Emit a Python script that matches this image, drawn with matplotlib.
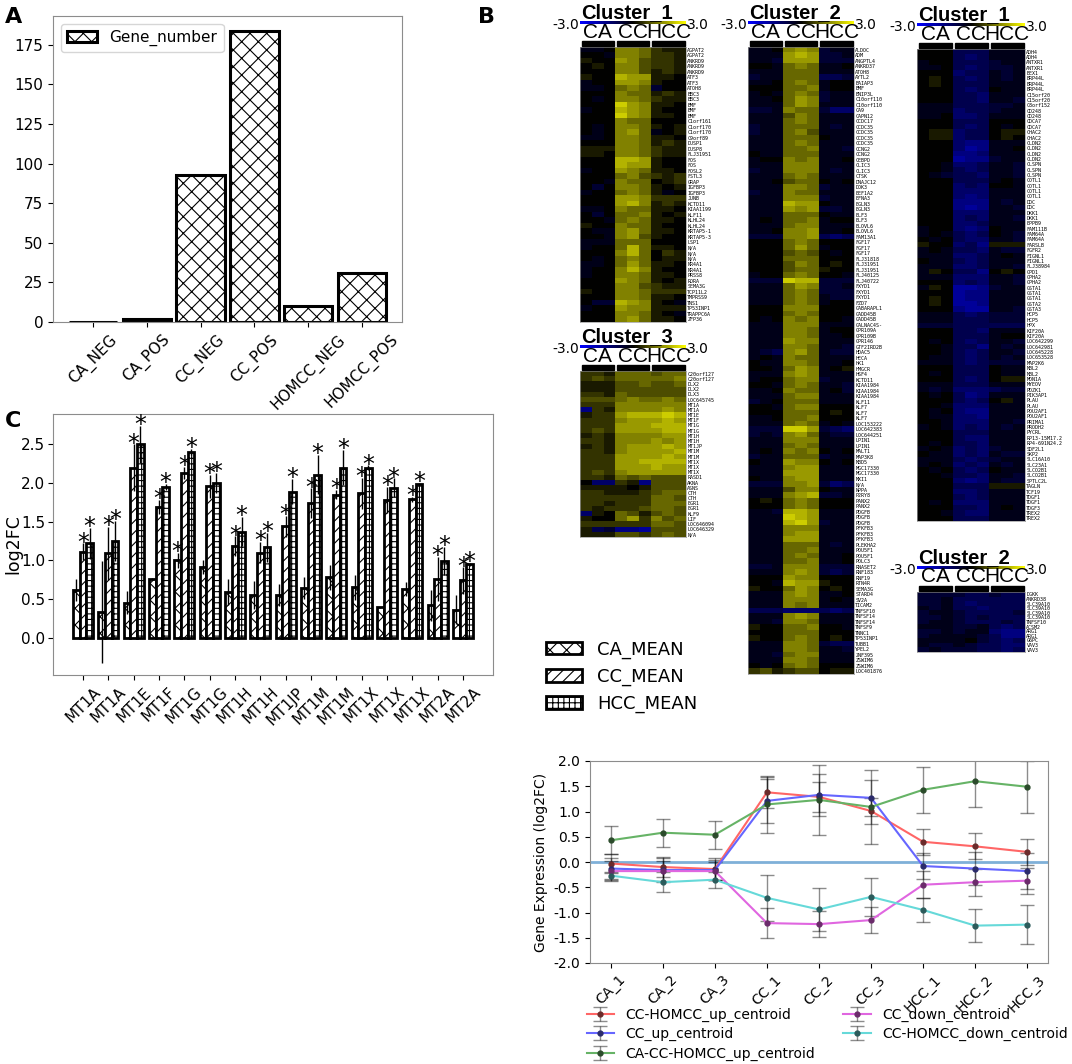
import numpy as np
import matplotlib
matplotlib.use('Agg')
import matplotlib.pyplot as plt
from matplotlib.colors import LinearSegmentedColormap, Normalize
from matplotlib.cm import ScalarMappable
from matplotlib.patches import Patch, Rectangle

W, H = 1072, 1064
plt.rcParams['hatch.linewidth'] = 0.8

# ---------------- panel A data
a_categories = ['CA_NEG', 'CA_POS', 'CC_NEG', 'CC_POS', 'HOMCC_NEG', 'HOMCC_POS']
a_gene_number = [0, 2, 93, 184, 10, 31]

# ---------------- panel C data
c_genes = ['MT1A', 'MT1A', 'MT1E', 'MT1F', 'MT1G', 'MT1G', 'MT1H', 'MT1H',
           'MT1JP', 'MT1M', 'MT1M', 'MT1X', 'MT1X', 'MT1X', 'MT2A', 'MT2A']
c_ca_mean = [0.62, 0.33, 0.45, 0.76, 1.00, 0.91, 0.59, 0.55, 0.55, 0.64, 0.78, 0.65, 0.39, 0.63, 0.42, 0.36]
c_cc_mean = [1.11, 1.09, 2.20, 1.69, 2.13, 1.96, 1.18, 1.10, 1.44, 1.74, 1.85, 1.87, 1.78, 1.79, 0.76, 0.74]
c_hcc_mean = [1.22, 1.25, 2.50, 1.95, 2.40, 2.00, 1.37, 1.17, 1.89, 2.11, 2.20, 2.20, 1.94, 1.99, 0.99, 0.95]
c_ca_err = [0.14, 0.66, 0.15, 0.01, 0.10, 0.09, 0.17, 0.18, 0.14, 0.14, 0.16, 0.16, 0.01, 0.09, 0.20, 0.19]
c_cc_err = [0.11, 0.34, 0.30, 0.09, 0.08, 0.15, 0.13, 0.14, 0.14, 0.19, 0.06, 0.20, 0.17, 0.03, 0.28, 0.17]
c_hcc_err = [0.20, 0.26, 0.24, 0.04, 0.04, 0.13, 0.19, 0.19, 0.16, 0.25, 0.23, 0.03, 0.12, 0.01, 0.18, 0.02]
# significance flags per group: CA, CC, HCC
c_stars = ['011', '011', '011', '011', '111', '011', '011', '011',
           '011', '011', '011', '011', '011', '011', '011', '011']

# ---------------- panel D data
d_samples = ['CA_1', 'CA_2', 'CA_3', 'CC_1', 'CC_2', 'CC_3', 'HCC_1', 'HCC_2', 'HCC_3']
d_cc_homcc_up = [-0.03, -0.10, -0.14, 1.38, 1.29, 1.01, 0.40, 0.31, 0.20]
d_cc_homcc_up_err = [0.18, 0.19, 0.22, 0.31, 0.30, 0.25, 0.26, 0.26, 0.25]
d_cc_up = [-0.13, -0.16, -0.16, 1.21, 1.33, 1.27, -0.08, -0.13, -0.18]
d_cc_up_err = [0.20, 0.23, 0.20, 0.44, 0.41, 0.36, 0.26, 0.33, 0.36]
d_ca_cc_homcc_up = [0.43, 0.58, 0.54, 1.14, 1.23, 1.09, 1.43, 1.60, 1.49]
d_ca_cc_homcc_up_err = [0.28, 0.28, 0.28, 0.56, 0.69, 0.74, 0.46, 0.52, 0.51]
d_cc_down = [-0.18, -0.18, -0.18, -1.21, -1.23, -1.15, -0.45, -0.40, -0.37]
d_cc_down_err = [0.19, 0.20, 0.18, 0.29, 0.26, 0.25, 0.27, 0.27, 0.26]
d_cc_homcc_down = [-0.27, -0.40, -0.35, -0.71, -0.94, -0.69, -0.95, -1.26, -1.24]
d_cc_homcc_down_err = [0.08, 0.20, 0.16, 0.45, 0.42, 0.38, 0.23, 0.33, 0.39]
d_yticks = [-2.0, -1.5, -1.0, -0.5, 0.0, 0.5, 1.0, 1.5, 2.0]

# ---------------- panel B heatmaps
# one string per gene: CA x3, CC x3, HCC x3
# '0'..'9' -> 0.0..2.7 (step 0.3), 'a'..'i' -> -0.3..-2.7
hm_groups = ['CA', 'CC', 'HCC']

c1_genes = ['AGPAT2', 'AGPAT2', 'ANKRD9', 'ANKRD9', 'ANKRD9', 'ATF3', 'ATF3', 'ATOH8', 'BBC3', 'BBC3',
            'BMF', 'BMF', 'BMF', 'C1orf161', 'C1orf170', 'C1orf170', 'C9orf89', 'DUSP1', 'DUSP8', 'FLJ31951',
            'FOS', 'FOS', 'FOSL2', 'FSTL3', 'GRAP', 'IGFBP3', 'IGFBP3', 'JUNB', 'KCTD11', 'KIAA1199',
            'KLF11', 'KLHL24', 'KLHL24', 'KRTAP5-1', 'KRTAP5-3', 'LSP1', 'N/A', 'N/A', 'N/A', 'NR4A1',
            'NR4A1', 'PRSS8', 'RORA', 'SEMA3G', 'TCP11L2', 'TMPRSS9', 'TNS1', 'TP53INP1', 'TRAPPC6A', 'ZFP36']
c1_rows = ['aa0 554 211', '00a 554 221', '100 653 221', '010 553 221', '000 553 121',
           '100 766 110', 'a00 665 100', 'aa0 454 b00', '000 544 121', '0a0 554 211',
           '000 865 110', 'a00 765 100', '000 865 110', '000 544 000', '0a0 554 101',
           '0a0 564 a01', 'aa0 554 110', '000 554 121', '111 554 211', '110 554 211',
           '000 776 100', '000 766 100', 'a00 654 110', '000 453 212', '00a 544 012',
           '0b0 554 101', 'a00 454 1a0', '000 665 222', '000 675 121', 'aa0 544 110',
           '0b0 445 101', '00a 454 110', '100 544 100', '0aa 564 110', '00a 563 100',
           'aaa 444 000', 'a00 474 110', '000 574 021', '0a0 454 011', 'aa0 464 110',
           'a00 575 100', 'a00 554 110', '000 654 101', '000 553 211', '100 554 222',
           '000 554 110', '0bb 765 10a', 'a00 655 111', '000 554 10a', '000 564 110']

c3_genes = ['C20orf127', 'C20orf127', 'DLX2', 'DLX2', 'DLX3', 'LOC645745', 'MT1A', 'MT1A', 'MT1E', 'MT1F',
            'MT1G', 'MT1G', 'MT1H', 'MT1H', 'MT1JP', 'MT1M', 'MT1M', 'MT1X', 'MT1X', 'MT1X',
            'RASD1', 'AKNA', 'ASNS', 'CTH', 'CTH', 'EGR1', 'EGR1', 'KLF9', 'LIF', 'LOC646094',
            'LOC646329', 'N/A']
c3_rows = ['221 444 344', '232 444 445', '111 334 334', '111 333 333', '221 433 333',
           '333 454 454', '222 555 555', 'e21 555 565', '122 677 787', '222 566 676',
           '222 666 777', '232 666 677', '121 555 566', '221 555 656', '121 566 676',
           '221 566 667', '222 666 676', '222 667 777', '222 666 766', '232 566 666',
           '221 434 333', '0dd 21e 333', '111 101 333', '221 112 344', '222 222 443',
           '221 222 444', '212 223 443', 'd10 431 343', '100 462 534', '222 222 443',
           '1cb eef 333', '111 332 343']

c2_genes = ['ALDOC', 'ADM', 'ANGPTL4', 'ANKRD37', 'ATOH8', 'AYTL2', 'BAIAP3', 'BMF', 'BNIP3L', 'C10orf110',
            'C10orf110', 'CA9', 'CAPN12', 'CCDC17', 'CCDC35', 'CCDC35', 'CCDC35', 'CCDC35', 'CCNG2', 'CCNG2',
            'CEBPD', 'CLIC3', 'CLIC3', 'CTSK', 'DNAJC12', 'DOK3', 'EEF1A2', 'EFNA3', 'EGLN3', 'EGLN3',
            'ELF3', 'ELF3', 'ELOVL6', 'ELOVL6', 'FAM13A1', 'FGF17', 'FGF17', 'FGF17', 'FLJ31818', 'FLJ31951',
            'FLJ31951', 'FLJ40125', 'FLJ40722', 'FXYD1', 'FXYD1', 'FXYD1', 'FZD7', 'GABARAPL1', 'GADD45B', 'GADD45B',
            'GALNAC4S-', 'GPR109A', 'GPR109B', 'GPR146', 'GTF2IRD2B', 'HDAC5', 'HECA', 'HK1', 'HMGCR', 'HSF4',
            'KCTD11', 'KIAA1984', 'KIAA1984', 'KIAA1984', 'KLF11', 'KLF7', 'KLF7', 'KLF7', 'LOC153222', 'LOC642383',
            'LOC644251', 'LPIN1', 'LPIN1', 'MALT1', 'MAP3K8', 'MBD5', 'MGC17330', 'MGC17330', 'MXI1', 'N/A',
            'NPPA', 'P2RY8', 'PANX2', 'PANX2', 'PDGFB', 'PDGFB', 'PDGFB', 'PFKFB3', 'PFKFB3', 'PFKFB3',
            'PLEKHA2', 'POU5F1', 'POU5F1', 'POLC3', 'RNASET2', 'RNF183', 'RNF19', 'RTN4R', 'SEMA3G', 'STARD4',
            'SV2A', 'TICAM2', 'TNFSF10', 'TNFSF14', 'TNFSF14', 'TNFSF9', 'TNNC1', 'TP53INP1', 'TUBB1', 'YPEL2',
            'ZNF395', 'ZSWIM6', 'ZSWIM6', 'LOC401876']
c2_rows = ['aa0 565 baa', 'aaa 676 bba', 'aab 666 bbb', '00a 454 aa0', 'aaa 444 aaa',
           'baa 444 ccb', 'aa0 454 a00', '000 445 a00', 'a0a 454 baa', 'aa0 465 baa',
           'aaa 465 aaa', 'bba 544 bdd', 'aaa 354 aaa', 'aaa 454 aaa', 'baa 444 aba',
           'baa 453 aaa', 'aaa 444 0aa', 'aaa 454 aaa', 'aaa 445 aab', '0aa 444 aaa',
           'a00 545 aa0', 'aaa 555 aaa', 'baa 555 aba', 'aaa 454 aaa', 'aa0 344 0a0',
           'aaa 554 baa', 'baa 544 aaa', 'aaa 555 baa', 'aaa 766 0aa', 'aaa 656 bba',
           'aaa 444 0aa', 'a0a 445 a00', 'aaa 455 aaa', 'aa0 556 aa0', 'bbb 556 cdc',
           '000 454 000', '000 464 a00', '000 343 0a0', '000 444 000', '000 354 010',
           '000 344 100', 'a00 454 00a', 'bbb 877 bbb', 'aaa 465 bba', 'aaa 454 bbb',
           'aaa 454 abb', 'aaa 454 a00', '000 555 000', '000 454 000', '0a0 545 00a',
           'aaa 555 aaa', 'aaa 554 a00', 'aaa 554 aa0', 'aaa 655 aaa', 'aaa 554 aab',
           'abc 564 abb', 'a0a 544 aaa', '0aa 554 aa0', '00a 465 a01', 'aaa 565 aaa',
           'a00 455 baa', '00a 454 aab', 'aa0 544 a0b', 'aaa 455 aaa', 'ba0 444 aaa',
           '00a 455 000', '000 444 010', 'aa0 445 000', 'aaa 454 a0a', 'bbb 886 bcd',
           'bab 564 abb', 'aaa 555 aaa', 'aaa 454 aaa', 'a0a 545 0a0', 'baa 444 baa',
           '0aa 655 0a0', 'aaa 566 aaa', 'aaa 666 aaa', '0aa 566 aaa', 'bbb 556 bdc',
           'aaa 355 0aa', 'aaa 567 bba', '010 454 000', '000 454 000', 'aab 776 aaa',
           'aaa 876 aaa', 'aaa 786 baa', 'aaa 555 aaa', 'aaa 566 aaa', 'aaa 666 aaa',
           'aaa 444 aba', 'aaa 445 aaa', 'aaa 454 aa0', 'aaa 445 aa0', 'bba 555 bbb',
           'aaa 565 bcb', '000 655 000', '00a 766 100', '100 465 010', 'aaa 565 aa0',
           'aaa 555 a0a', 'aaa 545 aaa', 'ccc ddd cdc', 'aaa 565 aaa', 'aab 554 aaa',
           '100 445 00a', '000 444 000', '100 454 010', 'aaa 554 bcc', 'aaa 554 aab',
           'aab 455 aaa', 'aaa 554 aaa', '0a0 454 000', '231 233 011']

r1_genes = ['ADH4', 'ADH4', 'ANTXR1', 'ANTXR1', 'BEX1', 'BRP44L', 'BRP44L', 'BRP44L', 'C15orf20', 'C15orf20',
            'C8orf152', 'CD248', 'CD248', 'CDCA7', 'CDCA7', 'CHAC2', 'CHAC2', 'CLDN2', 'CLDN2', 'CLDN2',
            'CLDN2', 'CLSPN', 'CLSPN', 'CLSPN', 'COTL1', 'COTL1', 'COTL1', 'COTL1', 'DDC', 'DDC',
            'DKK1', 'DKK1', 'EPPB9', 'FAM111B', 'FAM64A', 'FAM64A', 'FARSLB', 'FGFR2', 'FIGNL1', 'FIGNL1',
            'FLJ38984', 'GPD1', 'GPHA2', 'GPHA2', 'GSTA1', 'GSTA1', 'GSTA1', 'GSTA2', 'GSTA3', 'HCP5',
            'HCP5', 'HPX', 'KIF20A', 'KIF20A', 'LOC642299', 'LOC642981', 'LOC645228', 'LOC653528', 'MAP2K6', 'MBL2',
            'MBL2', 'MON1A', 'MYEOV', 'PDZK1', 'PIK3AP1', 'PLAU', 'PLAU', 'POU2AF1', 'POU2AF1', 'PRIMA1',
            'PRODH2', 'PYCRL', 'RP13-15M17.2', 'RP4-691N24.2', 'SDF2L1', 'SKP2', 'SLC16A10', 'SLC23A1', 'SLCO2B1', 'SLCO2B1',
            'SPTLC2L', 'TAGLN', 'TCF19', 'TDGF1', 'TDGF1', 'TDGF3', 'TREX2', 'TREX2']
r1_rows = ['000 ccc aaa', '000 cdc aaa', 'a00 ccc baa', 'aa0 cdc bba', '000 dcc aba',
           '010 cdc aba', '010 ccc aaa', '000 cdc 0aa', '000 ccd aaa', '000 ccd aab',
           'aaa ccc bba', 'aaa dcc baa', 'aa0 ddc aaa', '000 ccc 000', '000 cdc 0a0',
           '011 dcc 011', '011 dcc 010', '000 dee aaa', '000 dfe aa0', '000 eed aaa',
           '000 fee baa', '00a ddc aab', '00a cdc aab', '0ab ccd aab', '000 ccc a0a',
           '000 dcd 00a', '000 ddd aaa', '000 ded aaa', '000 eee aba', '000 efe aab',
           '000 ddd aaa', '000 dcd aab', '000 ddc aaa', 'a00 ded 0aa', 'a0a cdc 0ab',
           '0a0 cdd aab', '100 dce 111', 'a0a ccd abb', 'aaa ddc a0a', '0aa cdc aaa',
           'aaa ddc aab', 'a10 cce 010', 'aaa ddd aab', '000 dcd aab', 'a10 ffe baa',
           '000 fee aaa', '010 fee aaa', '010 ffe aaa', '000 eff aab', 'aaa cdc bbb',
           'aaa ccc bbb', 'bbb ccc ccc', '000 ccd aaa', '000 ccc a00', '0a0 cdc aab',
           '00a cce aba', '00a cdc aab', '0aa cdc aba', 'aaa cdc bbb', '000 ccc 0aa',
           '0a0 ccc 0aa', '000 cdc 011', 'aaa ccc aaa', 'aba ddd cbb', '0a0 ced aaa',
           '000 cdc 01a', '00a ddd aaa', '0a0 dee aaa', '0aa dde aaa', '00a ddd aab',
           'a0a dcd aba', '000 ccc aaa', '000 cdd aaa', '0a0 ccd aaa', 'a0a dcd baa',
           '0aa dcd abb', 'aaa cdc baa', 'a0a dcd aba', '0a0 cdc 0aa', '00a ccd aab',
           '000 ded abb', '000 ccc 111', '000 ddc aaa', '000 cdc aaa', '0a0 ddd aaa',
           '000 ccd a0a', '00a cdd aaa', '000 ccc aaa']

r2_genes = ['DGKK', 'ANKRD38', 'SLC39A10', 'SLC39A10', 'SLC39A10', 'SLC39A10', 'TNFSF10', 'ACSM2',
            'ARG1', 'ARG1', 'G6PC', 'VAV3', 'VAV3']
r2_rows = ['bbb bcc bcc', 'bba ccc ccc', 'bba cdc ccc', 'aba ccd ccc', 'baa bcc ccb',
           'bba bcb ccc', 'baa bcc cbc', 'aaa bba cdc', 'bba baa dee', 'baa aab cee',
           'aaa a0b cdc', 'abb abc cdd', 'bab bbc cdc']

LEVELS = {str(d): 0.3 * d for d in range(10)}
LEVELS.update({ch: -0.3 * (i + 1) for i, ch in enumerate('abcdefghi')})


def decode(rows):
    return np.array([[LEVELS[ch] for ch in r.replace(' ', '')] for r in rows])


hm_cmap = LinearSegmentedColormap.from_list('blue_black_yellow', ['#0000ff', '#000000', '#ffff00'])

fig = plt.figure(figsize=(W / 100, H / 100), dpi=100)


def fx(x):
    return x / W


def fy(y):
    return 1 - y / H


def add_ax(x0, y0, x1, y1):
    return fig.add_axes([fx(x0), fy(y1), (x1 - x0) / W, (y1 - y0) / H])


def gray_frame(ax):
    for s in ax.spines.values():
        s.set_color('0.55')


# ================= A
axa = add_ax(53, 16, 402, 322)
axa.bar(a_categories, a_gene_number, width=0.9, color='white', edgecolor='k',
        linewidth=2.2, hatch='xx', label='Gene_number')
axa.legend(loc='upper left', fontsize=11)
axa.tick_params(labelsize=11)
plt.setp(axa.get_xticklabels(), rotation=45)
gray_frame(axa)
fig.text(fx(14), fy(17), 'A', fontsize=16, fontweight='bold', ha='center', va='center')

# ================= C
axc = add_ax(53, 414, 493, 675)
xc = np.arange(len(c_genes))
bw = 0.263
c_series = [(c_ca_mean, c_ca_err, 'xx', 'CA_MEAN'),
            (c_cc_mean, c_cc_err, '///', 'CC_MEAN'),
            (c_hcc_mean, c_hcc_err, '+++', 'HCC_MEAN')]
for k, (vals, errs, hatch, lab) in enumerate(c_series):
    pos = xc + (k - 1) * bw
    axc.bar(pos, vals, width=bw, color='white', edgecolor='k', linewidth=2, hatch=hatch,
            yerr=errs, error_kw=dict(elinewidth=1, ecolor='k'), label=lab)
    for i in range(len(c_genes)):
        if c_stars[i][k] == '1':
            axc.text(pos[i], vals[i] + errs[i] + 0.01, '*', ha='center', va='center', fontsize=17)
axc.set_xticks(xc)
axc.set_xticklabels(c_genes, rotation=45, fontsize=11)
axc.tick_params(axis='y', labelsize=11, pad=2)
axc.set_ylabel('log2FC', fontsize=12.5)
axc.yaxis.set_label_coords(-0.07, 0.5)
axc.set_yticks([0, 0.5, 1.0, 1.5, 2.0, 2.5])
gray_frame(axc)
c_handles = [Patch(facecolor='white', edgecolor='k', linewidth=2, hatch=h, label=l)
             for _, _, h, l in c_series]
fig.legend(handles=c_handles, loc='upper left', bbox_to_anchor=(fx(530), fy(624)),
           frameon=False, fontsize=13)
fig.text(fx(13), fy(421), 'C', fontsize=16, fontweight='bold', ha='center', va='center')

# ================= D
axd = add_ax(590, 761, 1048, 963)
xd = np.arange(len(d_samples))
d_series = [(d_cc_homcc_up, d_cc_homcc_up_err, '#ff6666', '#6b2b2b', 'CC-HOMCC_up_centroid'),
            (d_cc_up, d_cc_up_err, '#6666ff', '#2b2b6b', 'CC_up_centroid'),
            (d_ca_cc_homcc_up, d_ca_cc_homcc_up_err, '#66b366', '#2b4b2b', 'CA-CC-HOMCC_up_centroid'),
            (d_cc_down, d_cc_down_err, '#e066e0', '#6b2b6b', 'CC_down_centroid'),
            (d_cc_homcc_down, d_cc_homcc_down_err, '#66d9d9', '#2b5b5b', 'CC-HOMCC_down_centroid')]
for vals, errs, col, mcol, lab in d_series:
    axd.errorbar(xd, vals, yerr=errs, fmt='-o', color=col, lw=1.5, ms=3.5, mfc=mcol, mec=mcol,
                 ecolor=(0, 0, 0, 0.45), elinewidth=1, capsize=5, label=lab)
axd.axhline(0, color='#7fb0d8', lw=2, zorder=0)
axd.set_ylim(-2, 2)
axd.set_yticks(d_yticks)
axd.set_yticklabels([f'{v:.1f}' for v in d_yticks])
axd.set_xticks(xd)
axd.set_xticklabels(d_samples, rotation=45, fontsize=10)
axd.tick_params(axis='y', labelsize=10)
axd.set_ylabel('Gene Expression (log2FC)', fontsize=10)
gray_frame(axd)
fig.legend(*axd.get_legend_handles_labels(), loc='upper left', bbox_to_anchor=(fx(574), fy(995)),
           ncol=2, frameon=False, fontsize=10, labelspacing=0.4)

# ================= B
fig.text(fx(487), fy(17), 'B', fontsize=16, fontweight='bold', ha='center', va='center')


def draw_cluster(title, x0, x1, top, bottom, rows, genes):
    data = decode(rows)
    ax = add_ax(x0, top, x1, bottom)
    ax.imshow(data, cmap=hm_cmap, vmin=-3, vmax=3, aspect='auto', interpolation='nearest')
    ax.set_xticks([])
    ax.yaxis.tick_right()
    ax.set_yticks(range(len(genes)))
    ax.set_yticklabels(genes, fontsize=3.6, family='DejaVu Sans Mono')
    ax.tick_params(axis='y', length=0, pad=1)
    for s in ax.spines.values():
        s.set_color('0.6')
        s.set_linewidth(0.5)
    # title and colour strip
    fig.text(fx(x0 + 1), fy(top - 29), title, ha='left', va='baseline', fontsize=14.5,
             fontweight='bold', family='Liberation Sans')
    cax = add_ax(x0, top - 26, x1, top - 23)
    cb = fig.colorbar(ScalarMappable(Normalize(-3, 3), hm_cmap), cax=cax, orientation='horizontal')
    cb.set_ticks([])
    cb.outline.set_visible(False)
    fig.text(fx(x0 - 1), fy(top - 22), '-3.0', ha='right', va='center', fontsize=10)
    fig.text(fx(x1 + 1), fy(top - 22), '3.0', ha='left', va='center', fontsize=10)
    gw = (x1 - x0) / 3
    for g, lab in enumerate(hm_groups):
        gx = x0 + gw * g
        fig.text(fx(gx + gw / 2), fy(top - 15), lab, ha='center', va='center', fontsize=15,
                 family='Liberation Sans')
        fig.add_artist(Rectangle((fx(gx + 1.5), fy(top - 1.5)), (gw - 3) / W, 4.5 / H,
                                 transform=fig.transFigure, color='k'))


draw_cluster('Cluster_1', 580, 686, 47, 322, c1_rows, c1_genes)
draw_cluster('Cluster_3', 580, 686, 371, 537, c3_rows, c3_genes)
draw_cluster('Cluster_2', 748, 854, 47, 674, c2_rows, c2_genes)
draw_cluster('Cluster_1', 917, 1025, 49, 521, r1_rows, r1_genes)
draw_cluster('Cluster_2', 917, 1025, 592, 652, r2_rows, r2_genes)

fig.savefig('out.png', dpi=100)
